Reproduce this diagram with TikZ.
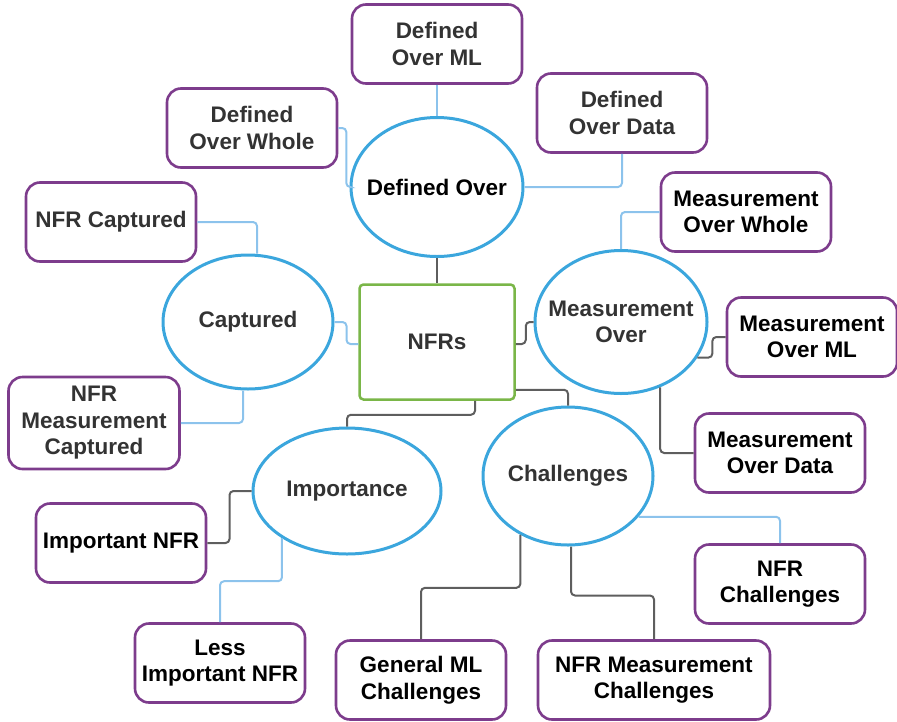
\documentclass[tikz,border=0pt]{standalone}
\usepackage{fontspec}
\setmainfont{Liberation Sans}
\usetikzlibrary{shapes.geometric}

\definecolor{leafpurple}{HTML}{7D3C8C}
\definecolor{hubblue}{HTML}{3BA6DD}
\definecolor{linkblue}{HTML}{8CC3EC}
\definecolor{linkgray}{HTML}{5E5E5E}
\definecolor{rootgreen}{HTML}{7AB648}
\definecolor{textgray}{HTML}{333333}

\tikzstyle{root}=[rectangle, draw=rootgreen, line width=2.5pt, fill=white,
                  rounded corners=4pt, minimum width=155pt, minimum height=115pt,
                  inner sep=0pt, text=textgray]
\tikzstyle{hub}=[ellipse, draw=hubblue, line width=3pt, fill=white,
                 inner sep=0pt, align=center]
\tikzstyle{leaf}=[rectangle, draw=leafpurple, line width=2.6pt, fill=white,
                  rounded corners=14pt, minimum width=170pt, minimum height=79pt,
                  inner sep=0pt, align=center]
\tikzstyle{soft}=[draw=linkblue, line width=2pt, rounded corners=4pt]
\tikzstyle{hard}=[draw=linkgray, line width=2pt, rounded corners=4pt]

\newcommand{\hubline}[1]{\makebox[0pt]{#1}}

\begin{document}
\begin{tikzpicture}[x=1pt, y=-1pt,
                    every node/.style={font=\fontsize{22.5}{26.5}\selectfont\bfseries}]

\useasboundingbox (0, 0) rectangle (897, 721);

%%%%%%%%%%%%%%%%%%
%%%%%%%%%%%%%%%%%%
\node (NFRs) at (437, 342) [root] {NFRs};

%%%%%%%%%%%%%%%%%%
\node (Defined_Over) at (437, 187) [hub, minimum width=172pt, minimum height=139pt] {\hubline{Defined Over}};

\node (Captured) at (248, 322) [hub, text=textgray, minimum width=170pt, minimum height=134pt] {\hubline{Captured}};

\node (Meas_Over) at (621, 322) [hub, text=textgray, minimum width=172pt, minimum height=143pt] {\hubline{Measurement}\\\hubline{Over}};

\node (Importance) at (347, 491) [hub, text=textgray, minimum width=188pt, minimum height=126pt] {\hubline{Importance}};

\node (Challenges) at (568, 476) [hub, text=textgray, minimum width=170pt, minimum height=138pt] {\hubline{Challenges}};

%%%%%%%%%%%%%%%%%%
\node (Defined_ML) at (437, 44) [leaf, text=textgray] {Defined\\Over ML};

\node (Defined_Whole) at (252, 128) [leaf, text=textgray] {Defined\\Over Whole};

\node (Defined_Data) at (622, 113) [leaf, text=textgray] {Defined\\Over Data};

%%%%%%%%%%%%%%%%%%
\node (NFR_Captured) at (111, 222) [leaf, text=textgray] {NFR Captured};

\node (NFR_Meas_Captured) at (94, 423) [leaf, text=textgray, minimum width=171pt, minimum height=92pt] {NFR\\Measurement\\Captured};

%%%%%%%%%%%%%%%%%%
\node (Meas_Whole) at (746, 212) [leaf] {Measurement\\Over Whole};

\node (Meas_ML) at (812, 337) [leaf] {Measurement\\Over ML};

\node (Meas_Data) at (780, 453) [leaf] {Measurement\\Over Data};

%%%%%%%%%%%%%%%%%%
\node (Important_NFR) at (121, 543) [leaf] {Important NFR};

\node (Less_Important) at (220, 663) [leaf] {Less\\Important NFR};

%%%%%%%%%%%%%%%%%%
\node (General_ML) at (421, 680) [leaf] {General ML\\Challenges};

\node (NFR_Meas_Challenges) at (654, 680) [leaf, minimum width=232pt] {NFR Measurement\\Challenges};

\node (NFR_Challenges) at (780, 584) [leaf] {NFR\\Challenges};


%%%%%%%%%%%%%%%%%%%%
%%%%%%%%%%%%%%%%%%%%
\draw [hard] (Defined_Over) to (NFRs);

\draw [soft] (Captured.east) -- ++(12, 0) |- ([yshift=-2pt]NFRs.west);

\draw [hard] ([yshift=-2pt]NFRs.east) -- ++(10, 0) |- (Meas_Over.west);

\draw [hard] ([xshift=38pt]NFRs.south) -- ++(0, 14) -| (Importance.north);

\draw [hard] ([yshift=11pt]NFRs.south east) -| (Challenges.north);

%%%%%%%%%%%%%%%%%%%%
\draw [soft] (Defined_ML) to (Defined_Over);

\draw [soft] (Defined_Whole.east) -- ++(8, 0) |- (Defined_Over.west);

\draw [soft] (Defined_Over.east) -| (Defined_Data.south);

%%%%%%%%%%%%%%%%%%%%
\draw [soft] (NFR_Captured.east) -| ([xshift=9pt]Captured.north);

\draw [soft] ([xshift=-5pt]Captured.south) |- (NFR_Meas_Captured.east);

%%%%%%%%%%%%%%%%%%%%
\draw [soft] (Meas_Over.north) |- (Meas_Whole.west);

\draw [hard] (Meas_Over.335) -- ++(15, 0) |- (Meas_ML.west);

\draw [hard] (Meas_Over.301) |- (Meas_Data.west);

%%%%%%%%%%%%%%%%%%%%
\draw [hard] (Importance.west) -- ++(-22, 0) |- (Important_NFR.east);

\draw [soft] (Importance.216) -- ++(0, 43) -| (Less_Important.north);

%%%%%%%%%%%%%%%%%%%%
\draw [soft] (Challenges.330) -| (NFR_Challenges.north);

\draw [hard] (Challenges.231) -- ++(0, 53) -| (General_ML.north);

\draw [hard] ([xshift=3pt]Challenges.south) -- ++(0, 49) -| (NFR_Meas_Challenges.north);

\end{tikzpicture}
\end{document}
